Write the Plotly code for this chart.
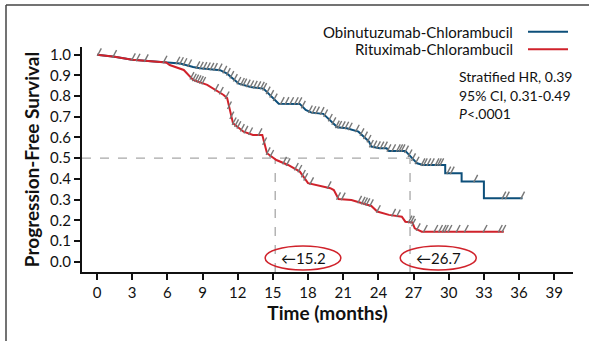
import numpy as np
import plotly.graph_objects as go

# ---------------- data ----------------
obi_t = [0, 1.5, 3.0, 4.5, 6.0, 7.1, 8.2, 8.8, 10.5, 11.1, 12.1, 13.1, 14.2, 15.5, 17.3, 17.8,
         18.3, 19.3, 20.5, 21.3, 22.3, 23.2, 23.4, 24.1, 24.7, 24.9, 26.3, 27.0, 27.3, 27.8,
         29.7, 29.7, 31.1, 31.1, 33.0, 33.0, 36.3]
obi_s = [1.0, 0.99, 0.975, 0.968, 0.962, 0.957, 0.94, 0.934, 0.925, 0.908, 0.86, 0.844, 0.836,
         0.763, 0.762, 0.733, 0.72, 0.714, 0.649, 0.644, 0.628, 0.58, 0.556, 0.548, 0.548,
         0.535, 0.535, 0.491, 0.475, 0.467, 0.467, 0.427, 0.427, 0.387, 0.387, 0.306, 0.306]

rit_t = [0, 1.5, 3.0, 4.5, 5.9, 6.2, 7.4, 8.2, 9.4, 10.8, 11.1, 11.6, 12.5, 13.3, 14.1, 14.5,
         15.3, 16.3, 17.3, 18.0, 19.9, 20.2, 20.6, 21.7, 23.4, 23.9, 24.9, 26.0, 26.3, 26.9,
         27.1, 27.7, 34.7]
rit_s = [1.0, 0.99, 0.975, 0.968, 0.962, 0.95, 0.926, 0.878, 0.854, 0.805, 0.79, 0.669, 0.628,
         0.612, 0.612, 0.524, 0.491, 0.467, 0.435, 0.379, 0.355, 0.346, 0.303, 0.298, 0.269,
         0.242, 0.226, 0.217, 0.193, 0.189, 0.161, 0.145, 0.145]

obi_cens = [0.2, 1.5, 3.1, 3.5, 4.2, 5.8, 6.9, 7.2, 7.5, 7.9, 8.6, 8.9, 9.2, 9.5, 9.8, 10.1,
            10.5, 10.9, 11.2, 11.5, 11.8, 12.1, 12.4, 12.6, 12.9, 13.2, 13.5, 13.8, 14.1, 14.3,
            14.6, 14.9, 15.2, 15.8, 16.2, 16.6, 17.0, 17.3, 17.6, 18.2, 18.5, 18.8, 19.2, 19.5,
            19.9, 20.2, 20.5, 20.7, 21.0, 21.3, 21.6, 22.2, 22.6, 22.9, 23.2, 23.4, 23.7, 24.0,
            24.3, 24.6, 24.9, 25.3, 25.7, 25.9, 26.1, 26.4, 26.7, 27.0, 27.3, 27.8, 28.0, 28.3,
            28.6, 29.0, 29.2, 29.4, 30.0, 30.3, 32.3, 34.7, 35.0, 36.3]
rit_cens = [8.1, 8.3, 8.5, 8.7, 8.9, 9.1, 10.2, 10.6, 11.1, 11.3, 11.5, 11.7, 11.9, 12.1, 12.4,
            12.7, 13.1, 13.9, 14.3, 14.6, 14.9, 16.0, 16.3, 17.0, 17.3, 17.6, 17.8, 18.3, 19.8,
            20.6, 21.0, 22.4, 22.7, 22.9, 23.1, 23.4, 24.0, 25.3, 25.7, 26.7, 26.9, 27.0, 27.4,
            28.0, 28.9, 29.3, 29.6, 29.8, 30.1, 30.8, 31.5, 33.1, 34.4, 34.7]

medians = [15.2, 26.7]
median_labels = ["←15.2", "←26.7"]
series_names = ["Obinutuzumab-Chlorambucil", "Rituximab-Chlorambucil"]
stats_lines = ["Stratified HR, 0.39", "95% CI, 0.31-0.49", "<i>P</i><.0001"]
x_ticks = list(range(0, 40, 3))
y_ticks = [round(0.1 * i, 1) for i in range(11)]

# ---------------- styling ----------------
BLUE = "#0d4f7a"
RED = "#d0222b"
GRAY = "#777777"
FONT = "Lato"
W, H = 589, 341
L, R, T, B = 82, 16, 47, 69


def px(x):
    return (x - L) / (W - L - R)


def py(y):
    return (H - B - y) / (H - T - B)


fig = go.Figure()

# dashed median guides
for m in medians:
    fig.add_shape(type="line", x0=m, x1=m, y0=-0.05, y1=0.5, xref="x", yref="y",
                  line=dict(color="#a8a8a8", width=1.3, dash="dash"), layer="below")
fig.add_shape(type="line", x0=-1.28, x1=max(medians), y0=0.5, y1=0.5, xref="x", yref="y",
              line=dict(color="#a8a8a8", width=1.3, dash="dash"), layer="below")

for t, s, col in [(obi_t, obi_s, BLUE), (rit_t, rit_s, RED)]:
    fig.add_trace(go.Scatter(x=t, y=s, mode="lines", line=dict(color=col, width=2),
                             showlegend=False, hoverinfo="skip"))
for t, s, c in [(obi_t, obi_s, obi_cens), (rit_t, rit_s, rit_cens)]:
    cy = np.interp(c, t, s) + 0.014
    fig.add_trace(go.Scatter(x=c, y=cy, mode="markers", showlegend=False, hoverinfo="skip",
                             marker=dict(symbol="line-ns", size=6, angle=28,
                                         line=dict(color=GRAY, width=1.4))))

# ellipses around median labels
for m, lab, (x0, x1) in zip(medians, median_labels, [(14.34, 20.8), (25.86, 32.35)]):
    fig.add_shape(type="circle", x0=x0, x1=x1, y0=-0.04, y1=0.076, xref="x", yref="y",
                  line=dict(color=RED, width=1.5))
    fig.add_annotation(x=(x0 + x1) / 2, y=0.018, xref="x", yref="y", text=lab,
                       showarrow=False, font=dict(family=FONT, size=15, color="#111"))

# legend drawn manually (text left of line sample)
for i, (name, col) in enumerate(zip(series_names, [BLUE, RED])):
    yy = [31.7, 49.3][i]
    fig.add_annotation(x=px(515), y=py(yy), xref="paper", yref="paper", text=name,
                       showarrow=False, xanchor="right", yanchor="middle",
                       font=dict(family=FONT, size=15, color="#111"))
    fig.add_shape(type="line", x0=px(528), x1=px(568), y0=py(yy), y1=py(yy),
                  xref="paper", yref="paper", line=dict(color=col, width=2))

for i, line in enumerate(stats_lines):
    fig.add_annotation(x=px(457), y=py(76.7 + 18.3 * i), xref="paper", yref="paper",
                       text=line, showarrow=False, xanchor="left", yanchor="middle",
                       font=dict(family=FONT, size=14, color="#111"))

# outer frame (left and top edges)
fig.add_shape(type="line", x0=px(6), x1=px(6), y0=py(5), y1=py(345), xref="paper",
              yref="paper", line=dict(color="#444", width=1.5))
fig.add_shape(type="line", x0=px(6), x1=px(592), y0=py(5), y1=py(5), xref="paper",
              yref="paper", line=dict(color="#444", width=1.5))

fig.update_layout(
    width=W, height=H, margin=dict(l=L, r=R, t=T, b=B),
    paper_bgcolor="white", plot_bgcolor="white",
    font=dict(family=FONT, size=14, color="#111"),
    xaxis=dict(range=[-1.28, 40.6], tickvals=x_ticks, ticks="outside", ticklen=6,
               tickwidth=1.5, tickcolor="#111", showline=True, linecolor="#111", linewidth=2,
               showgrid=False, zeroline=False, tickfont=dict(size=15),
               title=dict(text="<b>Time (months)</b>", font=dict(size=19), standoff=7)),
    yaxis=dict(range=[-0.05, 1.037], tickvals=y_ticks, tickformat=".1f", ticks="outside",
               ticklen=6, tickwidth=1.5, tickcolor="#111", showline=True, linecolor="#111",
               linewidth=2, showgrid=False, zeroline=False, tickfont=dict(size=15),
               title=dict(text="<b>Progression-Free Survival</b>", font=dict(size=19),
                          standoff=5)),
)

fig.write_html("out.html")
